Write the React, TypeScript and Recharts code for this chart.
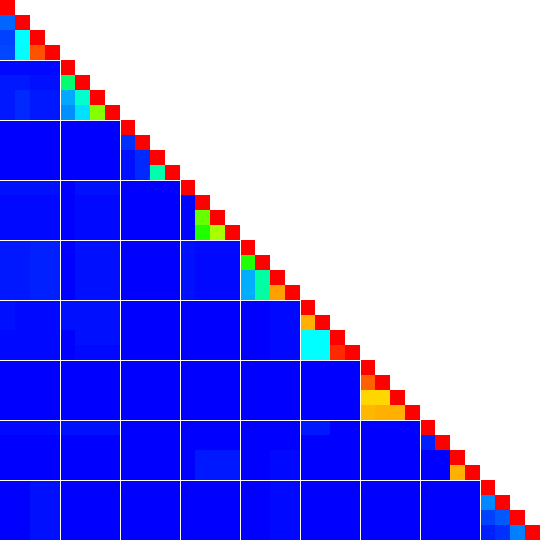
import { ScatterChart, Scatter, XAxis, YAxis } from "recharts";

// 36 variables in 9 groups of 4
const N = 36;
const GROUP = 4;
const SIZE = 540;

// within-group values, per group: [r1c0, r2c0, r2c1, r3c0, r3c1, r3c2]
const withinGroup = [
  [0.1, 0.063, 0.25, 0.07, 0.25, 0.92],
  [0.39, 0.165, 0.3, 0.14, 0.22, 0.63],
  [0.047, 0.015, 0.04, 0.015, 0.04, 0.33],
  [0.005, 0.005, 0.6, 0.005, 0.53, 0.665],
  [0.53, 0.17, 0.34, 0.17, 0.34, 0.843],
  [0.827, 0.25, 0.25, 0.25, 0.25, 0.96],
  [0.906, 0.79, 0.79, 0.82, 0.827, 0.827],
  [0.03, 0, 0, 0, 0, 0.827],
  [0.133, 0.063, 0.086, 0.03, 0.047, 0.125],
];

// faint between-group values: [row, fromCol, toCol, value]; everything else ~0
const betweenGroup: [number, number, number, number][] = [
  [4, 0, 3, 0.008],
  [5, 0, 1, 0.024], [5, 2, 3, 0.016],
  [6, 0, 0, 0.024], [6, 1, 1, 0.04], [6, 2, 3, 0.024],
  [7, 0, 0, 0.024], [7, 1, 1, 0.04], [7, 2, 3, 0.024],
  [12, 0, 3, 0.016], [12, 5, 7, 0.016],
  [13, 0, 3, 0.008], [13, 5, 7, 0.008],
  [14, 0, 3, 0.008], [14, 5, 7, 0.008],
  [15, 0, 3, 0.008], [15, 5, 7, 0.008],
  [16, 0, 1, 0.024], [16, 2, 3, 0.031], [16, 5, 7, 0.016], [16, 12, 12, 0.016], [16, 13, 15, 0.008],
  [17, 0, 1, 0.024], [17, 2, 3, 0.031], [17, 5, 7, 0.016], [17, 12, 12, 0.016], [17, 13, 15, 0.008],
  [18, 0, 1, 0.024], [18, 2, 3, 0.031], [18, 5, 7, 0.016], [18, 12, 12, 0.016], [18, 13, 15, 0.008],
  [19, 0, 1, 0.024], [19, 2, 3, 0.031], [19, 5, 7, 0.016], [19, 12, 12, 0.016], [19, 13, 15, 0.008],
  [20, 0, 0, 0.016], [20, 1, 3, 0.008], [20, 4, 7, 0.016], [20, 18, 19, 0.008],
  [21, 0, 0, 0.016], [21, 1, 3, 0.008], [21, 4, 7, 0.016], [21, 18, 19, 0.008],
  [22, 0, 3, 0.008], [22, 5, 7, 0.016], [22, 18, 19, 0.008],
  [23, 0, 3, 0.008], [23, 5, 7, 0.008], [23, 18, 19, 0.008],
  [28, 0, 3, 0.008], [28, 4, 7, 0.016], [28, 20, 21, 0.024],
  [30, 13, 15, 0.024], [30, 18, 19, 0.008],
  [31, 13, 15, 0.024], [31, 18, 19, 0.008],
  [32, 2, 3, 0.016], [32, 18, 19, 0.008],
  [33, 2, 3, 0.016], [33, 18, 19, 0.008],
  [34, 2, 3, 0.016], [34, 18, 19, 0.008],
  [35, 2, 3, 0.016], [35, 18, 19, 0.008],
];

const stops = [
  [0, 0, 255],
  [0, 255, 255],
  [0, 255, 0],
  [255, 255, 0],
  [255, 0, 0],
];

function colour(v: number) {
  const t = Math.max(0, Math.min(1, v)) * (stops.length - 1);
  const i = Math.min(Math.floor(t), stops.length - 2);
  const f = t - i;
  const c = stops[i].map((a, k) => Math.round(a + (stops[i + 1][k] - a) * f));
  return `rgb(${c[0]},${c[1]},${c[2]})`;
}

function cellValue(row: number, col: number) {
  if (row === col) return 1;
  const g = Math.floor(row / GROUP);
  if (g === Math.floor(col / GROUP)) {
    const r = row % GROUP;
    const c = col % GROUP;
    return withinGroup[g][(r * (r - 1)) / 2 + c];
  }
  const hit = betweenGroup.find(([r, a, b]) => r === row && col >= a && col <= b);
  return hit ? hit[3] : 0;
}

const cells: { x: number; y: number; v: number; row: number; col: number }[] = [];
for (let row = 0; row < N; row++) {
  for (let col = 0; col <= row; col++) {
    cells.push({ x: col + 0.5, y: row + 0.5, v: cellValue(row, col), row, col });
  }
}

const cell = SIZE / N;

// each cell draws its own piece of the white group separators
function Cell(props: any) {
  const { cx, cy, payload } = props;
  const { row, col } = payload;
  const x0 = cx - cell / 2;
  const y0 = cy - cell / 2;
  const sameGroup = Math.floor(row / GROUP) === Math.floor(col / GROUP);
  const topEdge = !sameGroup && row % GROUP === 0;
  const leftEdge = col > 0 && col % GROUP === 0;
  return (
    <g>
      <rect x={x0} y={y0} width={cell} height={cell} fill={colour(payload.v)} shapeRendering="crispEdges" />
      {topEdge && <rect x={x0} y={y0} width={cell} height={1} fill="#fff" shapeRendering="crispEdges" />}
      {leftEdge && <rect x={x0} y={y0} width={1} height={cell} fill="#fff" shapeRendering="crispEdges" />}
    </g>
  );
}

export default function App() {
  return (
    <div style={{ position: "absolute", left: 0, top: 0 }}>
      <ScatterChart width={SIZE} height={SIZE} margin={{ top: 0, right: 0, bottom: 0, left: 0 }}>
        <XAxis type="number" dataKey="x" domain={[0, N]} hide />
        <YAxis type="number" dataKey="y" domain={[0, N]} reversed hide />
        <Scatter data={cells} shape={Cell} isAnimationActive={false} />
      </ScatterChart>
    </div>
  );
}
